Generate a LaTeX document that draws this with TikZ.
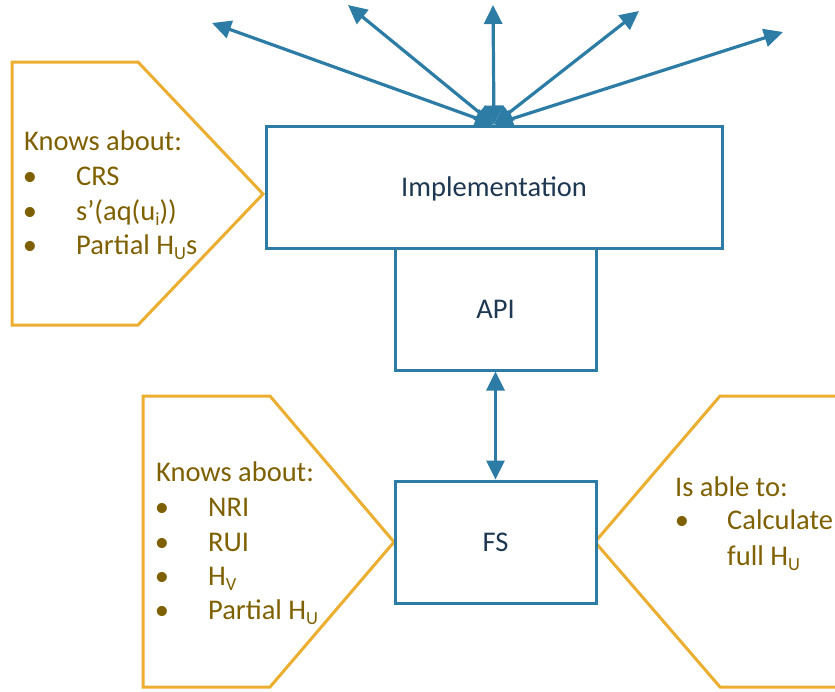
\documentclass[tikz,border=0pt]{standalone}
\usepackage{fontspec}
\setmainfont{Carlito}
\usetikzlibrary{arrows.meta}
\definecolor{boxblue}{RGB}{44,124,166}
\definecolor{calloutgold}{RGB}{236,174,48}
\definecolor{notebrown}{RGB}{127,96,0}
\definecolor{labelnavy}{RGB}{31,56,82}
% lowered small letters for subscripts
\newcommand\lowsub[1]{\raisebox{-5pt}{\fontsize{18.5}{20}\selectfont #1}}

\begin{document}
\begin{tikzpicture}[x=1pt,y=-1pt,
  every node/.style={font=\fontsize{28.5}{34.5}\selectfont},
  block/.style={draw=boxblue,line width=3pt,fill=white,text=labelnavy,
    text height=18.4pt,text depth=0pt,inner sep=0pt},
  callout/.style={draw=calloutgold,line width=3pt,line join=miter},
  note/.style={text=notebrown,anchor=base west,inner sep=0pt},
  dot/.style={text=notebrown,anchor=base,inner sep=0pt},
  link/.style={draw=boxblue,line width=3.2pt,
    {Triangle[length=19pt,width=18pt]}-{Triangle[length=19pt,width=18pt]}}]

\useasboundingbox (0,0) rectangle (835,691);
\clip (0,0) rectangle (835,691);

% callout outlines
\draw[callout] (12,62) -- (138,62) -- (263,194) -- (138,325) -- (12,325) -- cycle;
\draw[callout] (143,396) -- (270,396) -- (394,542) -- (270,687) -- (143,687) -- cycle;
\draw[callout] (900,396) -- (720,396) -- (595,542) -- (720,687) -- (900,687);

% component boxes
\node[block,minimum width=456pt,minimum height=122pt] (impl) at (494,187) {Implementation};
\node[block,minimum width=201pt,minimum height=122pt] (api) at (495.5,309) {API};
\node[block,minimum width=201pt,minimum height=122pt] (fs) at (495.5,542) {FS};

% connectors
\draw[link] (api.south) -- (fs.north);
\coordinate (t1) at (212,23);
\coordinate (t2) at (348,5);
\coordinate (t3) at (493,5);
\coordinate (t4) at (639,11);
\coordinate (t5) at (783,32);
\foreach \t in {t1,t2,t3,t4,t5}
  \draw[link] (impl.north) -- (\t);

% notes: implementation
\node[note] (ka1) at (24,150) {Knows about:};
\node[dot] (d11) at (30,185) {•};
\node[note] (crs) at (76,185) {CRS};
\node[dot] (d12) at (30,220) {•};
\node[note] (saq) at (76,220) {s’(aq(u\lowsub{i}))};
\node[dot] (d13) at (30,254) {•};
\node[note] (phs) at (76,254) {Partial H\lowsub{U}s};

% notes: FS knowledge
\node[note] (ka2) at (156,481) {Knows about:};
\node[dot] (d21) at (162,516) {•};
\node[note] (nri) at (208,516) {NRI};
\node[dot] (d22) at (162,551) {•};
\node[note] (rui) at (208,551) {RUI};
\node[dot] (d23) at (162,585) {•};
\node[note] (hv) at (208,585) {H\lowsub{V}};
\node[dot] (d24) at (162,619) {•};
\node[note] (phu) at (208,619) {Partial H\lowsub{U}};

% notes: FS abilities
\node[note] (able) at (675,496) {Is able to:};
\node[dot] (d31) at (682,529) {•};
\node[note] (calc) at (727,529) {Calculate};
\node[note] (full) at (727,565) {full H\lowsub{U}};
\end{tikzpicture}
\end{document}
